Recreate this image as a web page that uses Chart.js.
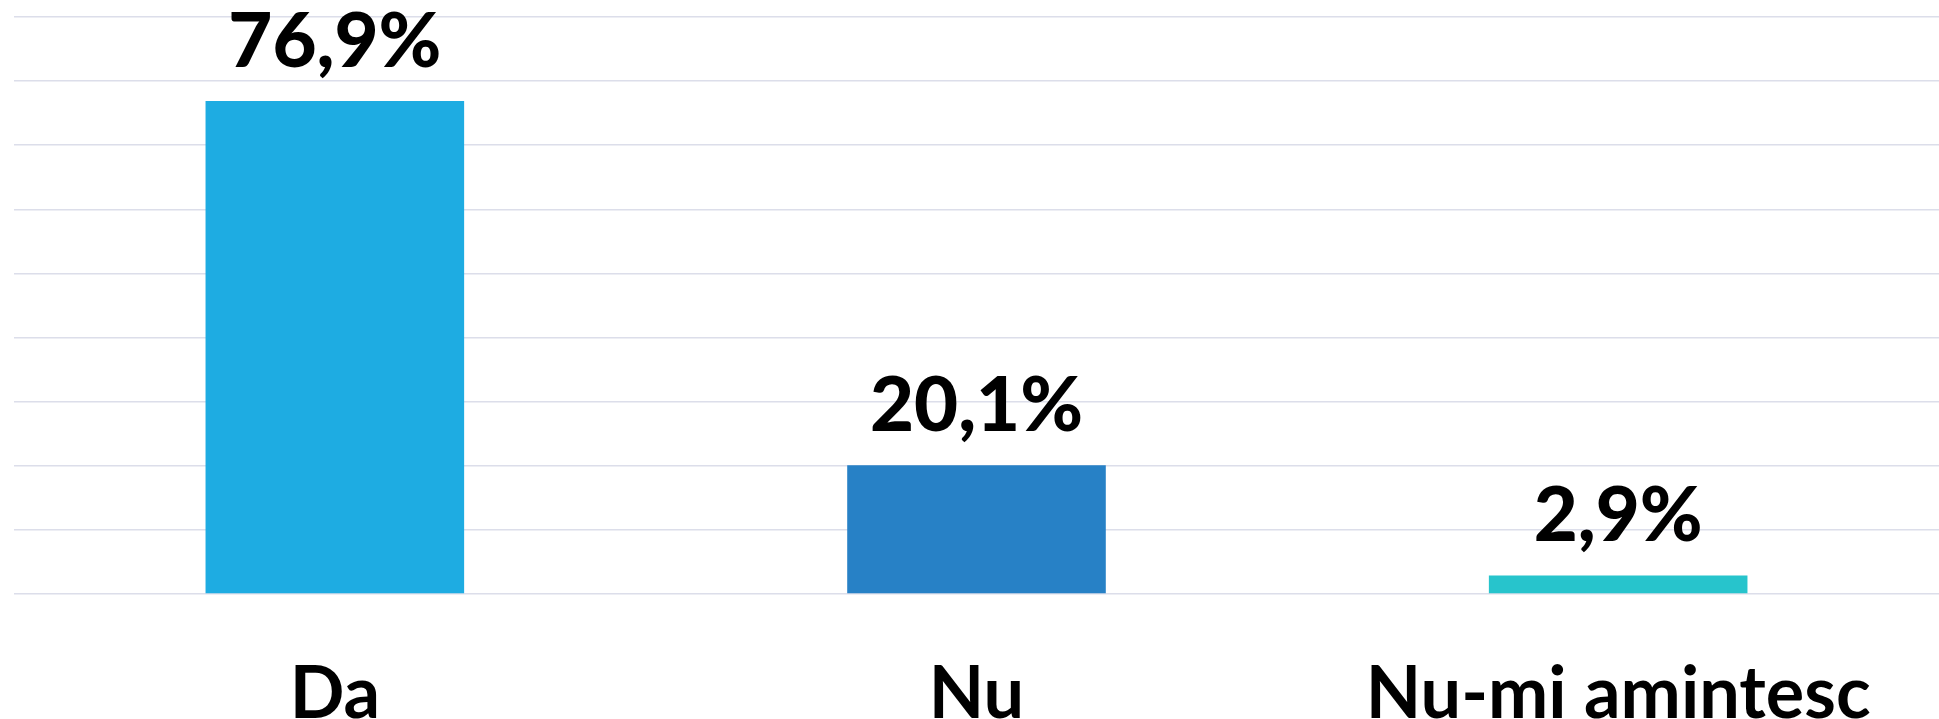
<!DOCTYPE html>
<html>
<head>
<meta charset="utf-8">
<script src="https://cdn.jsdelivr.net/npm/chart.js@4/dist/chart.umd.min.js"></script>
<style>
  html, body { margin: 0; padding: 0; background: #fff; }
  #wrap { width: 1939px; height: 719px; }
</style>
</head>
<body>
<div id="wrap"><canvas id="chart"></canvas></div>
<script>
// chart values
const categories = ['Da', 'Nu', 'Nu-mi amintesc'];
const percentages = [76.9, 20.1, 2.9];
const barColors = ['#1EACE2', '#2781C6', '#27C4CC'];

// draws the "76,9%" labels above each bar
const valueLabels = {
  id: 'valueLabels',
  afterDatasetsDraw(chart) {
    const ctx = chart.ctx;
    const meta = chart.getDatasetMeta(0);
    ctx.save();
    ctx.font = '900 76px Lato';
    ctx.fillStyle = '#000';
    ctx.textAlign = 'center';
    ctx.textBaseline = 'alphabetic';
    meta.data.forEach((bar, i) => {
      const txt = percentages[i].toFixed(1).replace('.', ',') + '%';
      ctx.fillText(txt, bar.x, bar.y - 34);
    });
    ctx.restore();
  }
};

function draw() {
  new Chart(document.getElementById('chart'), {
    type: 'bar',
    data: {
      labels: categories,
      datasets: [{
        data: percentages,
        backgroundColor: barColors,
        categoryPercentage: 1,
        barPercentage: 0.403
      }]
    },
    options: {
      responsive: true,
      maintainAspectRatio: false,
      animation: false,
      layout: { padding: { left: 14, top: 17, right: 0, bottom: 0 } },
      plugins: { legend: { display: false }, tooltip: { enabled: false } },
      scales: {
        x: {
          grid: { display: false },
          border: { display: false },
          afterFit(scale) { scale.height = 125; },
          ticks: {
            color: '#000',
            font: { family: 'Lato', size: 72, weight: 'bold', lineHeight: 1.2 },
            padding: 50
          }
        },
        y: {
          min: 0,
          max: 90,
          ticks: { display: false, stepSize: 10 },
          border: { display: false },
          grid: { color: '#dcdeea', lineWidth: 1.5, drawTicks: false }
        }
      }
    },
    plugins: [valueLabels]
  });
}

Promise.all([
  document.fonts.load('900 76px Lato'),
  document.fonts.load('bold 72px Lato')
]).then(draw, draw);
</script>
</body>
</html>
